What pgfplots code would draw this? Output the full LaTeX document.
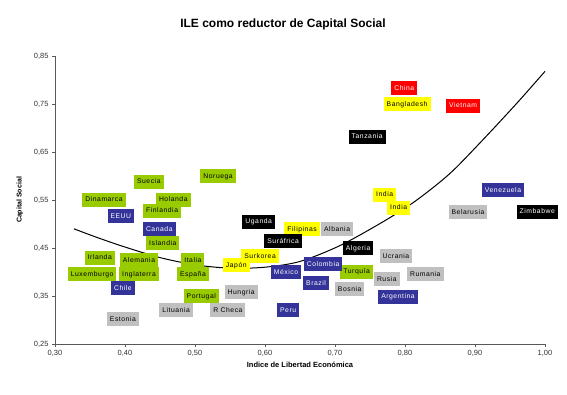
\documentclass[border=0pt]{standalone}
\usepackage{pgfplots}
\pgfplotsset{compat=1.18}
\usepackage{pgfplotstable}
\usepackage{fontspec}
\setmainfont{Liberation Sans}
\newfontfamily\boxfont[LetterSpace=8]{Liberation Sans}
\definecolor{cgreen}{HTML}{99CC00}
\definecolor{cblue}{HTML}{333399}
\definecolor{cyellow}{HTML}{FFFF00}
\definecolor{cred}{HTML}{FF0000}
\definecolor{cgrey}{HTML}{C0C0C0}

\pgfplotstableread{
x y label
0.434 0.588 Suecia
0.533 0.599 Noruega
0.370 0.551 Dinamarca
0.469 0.551 Holanda
0.453 0.528 Finlandia
0.454 0.460 Islandia
0.364 0.430 Irlanda
0.420 0.424 Alemania
0.497 0.424 Italia
0.353 0.395 Luxemburgo
0.420 0.395 Inglaterra
0.497 0.395 España
0.509 0.350 Portugal
0.731 0.401 Turquía
}\greentab

\pgfplotstableread{
x y label
0.394 0.516 EEUU
0.449 0.489 Canada
0.397 0.366 Chile
0.630 0.399 México
0.683 0.416 Colombia
0.673 0.377 Brazil
0.633 0.320 Peru
0.790 0.348 Argentina
0.940 0.570 Venezuela
}\bluetab

\pgfplotstableread{
x y label
0.803 0.750 Bangladesh
0.771 0.561 India
0.791 0.534 India
0.653 0.489 Filipinas
0.593 0.433 Surkorea
0.559 0.414 Japón
}\yellowtab

\pgfplotstableread{
x y label
0.746 0.682 Tanzania
0.591 0.505 Uganda
0.626 0.464 Suráfrica
0.733 0.449 Algeria
0.989 0.526 Zimbabwe
}\blacktab

\pgfplotstableread{
x y label
0.799 0.783 China
0.883 0.746 Vietnam
}\redtab

\pgfplotstableread{
x y label
0.703 0.489 Albania
0.787 0.433 Ucrania
0.774 0.385 Rusia
0.829 0.395 Rumania
0.721 0.364 Bosnia
0.566 0.358 Hungria
0.473 0.320 Lituania
0.547 0.320 {R Checa}
0.397 0.302 Estonia
0.890 0.524 Belarusia
}\greytab

\pgfplotstableread{
x y
0.327 0.490
0.360 0.472
0.400 0.452
0.450 0.430
0.500 0.415
0.550 0.408
0.600 0.410
0.650 0.422
0.707 0.455
0.769 0.505
0.815 0.548
0.864 0.605
0.911 0.675
0.960 0.752
1.000 0.818
}\curvetab

\tikzset{lbl/.style={anchor=center, font=\boxfont\fontsize{6.8}{7}\selectfont,
  inner xsep=3pt, inner ysep=0pt, minimum height=14pt, text height=5pt, text depth=1pt}}

\begin{document}
\begin{tikzpicture}[x=1pt,y=1pt]
\path[use as bounding box] (0,0) rectangle (567,394);
\node[font=\bfseries\fontsize{12}{14}\selectfont] at (283,370) {ILE como reductor de Capital Social};
\begin{axis}[
  at={(55pt,50pt)}, anchor=south west,
  scale only axis, width=490pt, height=288pt,
  xmin=0.30, xmax=1.00, ymin=0.25, ymax=0.85,
  axis x line*=bottom, axis y line*=left,
  axis line style={gray!70!black, line width=0.6pt},
  xtick={0.3,0.4,...,1.0}, ytick={0.25,0.35,...,0.85},
  tick align=outside, tick style={gray!70!black, line width=0.6pt},
  major tick length=3pt,
  xticklabel style={/pgf/number format/.cd, use comma, fixed, fixed zerofill, precision=2, assume math mode=true},
  yticklabel style={/pgf/number format/.cd, use comma, fixed, fixed zerofill, precision=2, assume math mode=true},
  ticklabel style={font=\fontsize{7.5}{9}\selectfont, text=gray!40!black},
  xlabel={Indice de Libertad Económica},
  ylabel={Capital Social},
  xlabel style={font=\bfseries\fontsize{7.5}{9}\selectfont, yshift=2pt},
  ylabel style={font=\bfseries\fontsize{7}{9}\selectfont, yshift=4pt},
  clip=false,
]
\addplot[only marks, mark=none, point meta=explicit symbolic,
  nodes near coords, nodes near coords align={center},
  every node near coord/.style={lbl, fill=cgreen, text=black}]
  table[meta=label] {\greentab};
\addplot[only marks, mark=none, point meta=explicit symbolic,
  nodes near coords, nodes near coords align={center},
  every node near coord/.style={lbl, fill=cblue, text=white}]
  table[meta=label] {\bluetab};
\addplot[only marks, mark=none, point meta=explicit symbolic,
  nodes near coords, nodes near coords align={center},
  every node near coord/.style={lbl, fill=cyellow, text=black}]
  table[meta=label] {\yellowtab};
\addplot[only marks, mark=none, point meta=explicit symbolic,
  nodes near coords, nodes near coords align={center},
  every node near coord/.style={lbl, fill=black, text=white}]
  table[meta=label] {\blacktab};
\addplot[only marks, mark=none, point meta=explicit symbolic,
  nodes near coords, nodes near coords align={center},
  every node near coord/.style={lbl, fill=cred, text=white}]
  table[meta=label] {\redtab};
\addplot[only marks, mark=none, point meta=explicit symbolic,
  nodes near coords, nodes near coords align={center},
  every node near coord/.style={lbl, fill=cgrey, text=black}]
  table[meta=label] {\greytab};
\addplot[black, line width=1pt, smooth, mark=none] table {\curvetab};
\end{axis}
\end{tikzpicture}
\end{document}
